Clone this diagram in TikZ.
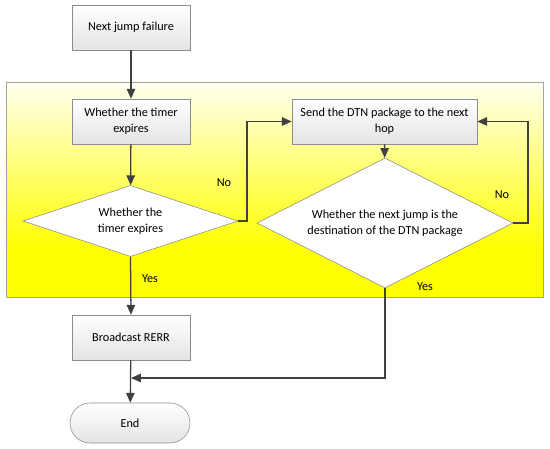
\documentclass[tikz,border=0pt]{standalone}
\usepackage{fontspec}
\setmainfont{Carlito}
\usetikzlibrary{arrows.meta, shapes.geometric}
\definecolor{flow_line}{HTML}{404040}
\definecolor{flow_border}{HTML}{8C8C8C}
\definecolor{flow_boxbottom}{HTML}{E4E4E4}
\definecolor{band_top}{HTML}{FFFFF0}
\definecolor{band_yellow}{HTML}{FFFF00}

\begin{document}
\begin{tikzpicture}[
    font=\fontsize{8.7}{11.5}\selectfont,
    procbox/.style={draw=flow_border, top color=white, bottom color=flow_boxbottom,
        minimum height=1.125cm, align=center, inner sep=2pt},
    decision/.style={draw=flow_border, fill=white, shape=diamond, align=center, inner sep=0pt},
    terminal/.style={draw=flow_border, top color=white, bottom color=flow_boxbottom,
        rounded corners=0.5cm, minimum width=3cm, minimum height=1cm},
    flowarrow/.style={draw=flow_line, line width=0.9pt, -{Triangle[length=7pt, width=6pt]}},
    branch/.style={text=black}
]
\useasboundingbox (0,0) rectangle (13.75,11.2);

%% ================================================================
%% Gelber Hintergrundbereich
%% ================================================================
\shade[top color=band_top, bottom color=band_yellow] (0.15, 5.0) rectangle (13.575, 9.15);
\fill[band_yellow] (0.15, 3.775) rectangle (13.575, 5.02);
\draw[draw=flow_border!80] (0.15, 3.775) rectangle (13.575, 9.15);

%% ================================================================
%% Knoten
%% ================================================================
\node[procbox, minimum width=2.95cm] (failure) at (3.275, 10.5125) {Next jump failure};
\node[procbox, minimum width=2.95cm] (timer) at (3.275, 8.1625) {Whether the timer\\expires};
\node[decision, aspect=3, minimum width=5.375cm, minimum height=1.775cm] (checktimer)
    at (3.2625, 5.675) {Whether the\\timer expires};
\node[procbox, minimum width=4.625cm] (send) at (9.6125, 8.1625)
    {Send the DTN package to the next\\hop};
\node[decision, aspect=2, minimum width=6.4cm, minimum height=3.25cm] (checkdest)
    at (9.625, 5.625) {Whether the next jump is the\\destination of the DTN package};
\node[procbox, minimum width=2.95cm] (rerr) at (3.275, 2.7625) {Broadcast RERR};
\node[terminal] (finish) at (3.25, 0.625) {End};

%% --- Hilfspunkte fuer die Rueckfuehrungen ---
\coordinate (loopleft) at (6.175, 0);
\coordinate (loopright) at (13.2, 0);
\coordinate (join) at (3.275, 1.75);

%% ================================================================
%% Verbindungen
%% ================================================================
\draw[flowarrow] (failure) -- (timer);
\draw[flowarrow] (timer) -- (checktimer);
\draw[flowarrow] (checktimer.east) -- (checktimer.east -| loopleft) |- (send.west);
\draw[flowarrow] (send) -- (checkdest);
\draw[flowarrow] (checkdest.east) -- (checkdest.east -| loopright) |- (send.east);
\draw[flowarrow] (checktimer.south) -- (rerr.north);
\draw[flowarrow] (rerr) -- (finish);
\draw[flowarrow] (checkdest.south) |- (join);

%% --- Beschriftungen ---
\node[branch] (nol) at (5.6, 6.625) {No};
\node[branch] (nor) at (12.55, 6.325) {No};
\node[branch] (yesl) at (3.75, 4.225) {Yes};
\node[branch] (yesr) at (10.625, 4.025) {Yes};

\end{tikzpicture}
\end{document}
